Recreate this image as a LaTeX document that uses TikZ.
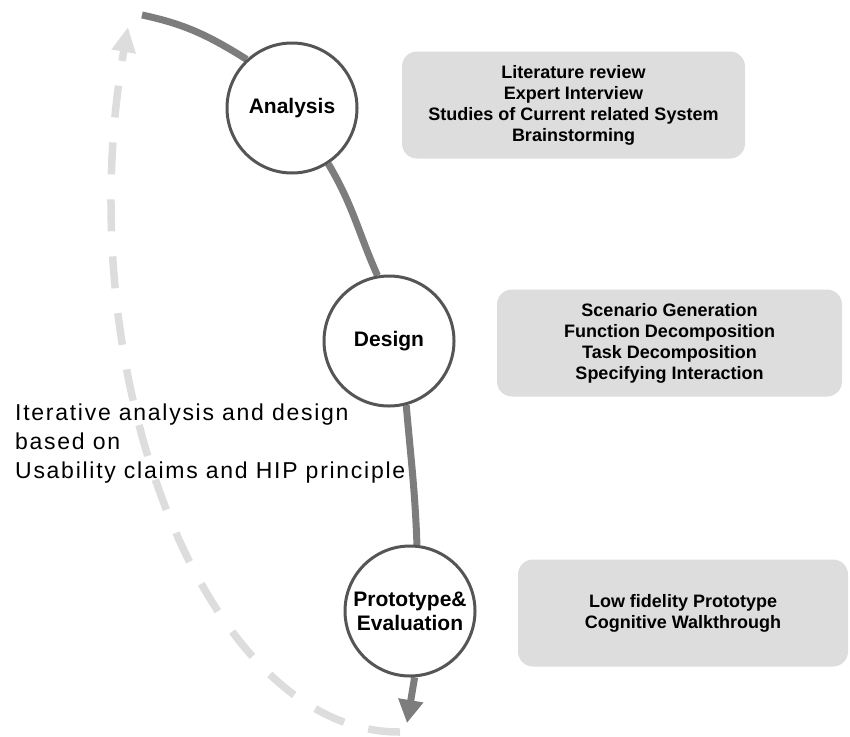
\documentclass[tikz,border=0pt]{standalone}
\usepackage{fontspec}
\setmainfont{Liberation Sans}
\newfontfamily\notefont[LetterSpace=7.5]{Liberation Sans}
\usetikzlibrary{arrows.meta,backgrounds,positioning}
\definecolor{flowgray}{RGB}{125,125,125}
\definecolor{ringgray}{RGB}{85,85,85}
\definecolor{boxgray}{RGB}{221,221,221}
\definecolor{loopgray}{RGB}{221,221,221}

\begin{document}
\begin{tikzpicture}[x=1pt,y=1pt,
  stage/.style={circle, draw=ringgray, line width=3pt, fill=white, minimum size=130pt, inner sep=0pt, align=center, font=\fontsize{21}{24}\selectfont\bfseries},
  task/.style={fill=boxgray, rounded corners=15pt, minimum height=107pt, align=center, font=\fontsize{18}{21}\selectfont\bfseries},
  note/.style={align=left, inner sep=0pt, font=\notefont\fontsize{23}{29}\selectfont},
  flow/.style={draw=flowgray, line width=7pt},
  loopback/.style={draw=loopgray, line width=7.5pt, dash pattern=on 32pt off 25pt}]
\useasboundingbox (0,0) rectangle (850,-736);
% feedback loop
\coordinate (loop_start) at (400,-732);
\coordinate (loop_end) at (128,-27);
\draw[loopback, -{Triangle[width=23pt,length=25pt]}] (loop_start) .. controls (205,-733) and (67,-373) .. (loop_end);
% stages
\node[stage] (stage_analysis) at (292,-108) {Analysis};
\node[stage] (stage_design) at (389,-341) {Design};
\node[stage] (stage_proto) at (410,-611) {Prototype\&\\Evaluation};
% activities of each stage
\node[task, minimum width=343pt] (task_analysis) at (573.5,-105) {Literature review\\Expert Interview\\Studies of Current related System\\Brainstorming};
\node[task, minimum width=345pt] (task_design) at (669.5,-343) {Scenario Generation\\Function Decomposition\\Task Decomposition\\Specifying Interaction};
\node[task, minimum width=330pt] (task_proto) at (683,-613) {Low fidelity Prototype\\Cognitive Walkthrough};
% note on the loop
\node[note, anchor=north west] (note_iter) at (15,-404) {Iterative analysis and design\\based on\\Usability claims and HIP principle};
% main flow
\coordinate (flow_start) at (142,-15);
\coordinate (flow_end) at (407,-723);
\begin{scope}[on background layer]
\draw[flow] (flow_start) to[out=-12,in=148] (stage_analysis.133);
\draw[flow] (stage_analysis.-57) to[out=-59,in=114] (stage_design.100);
\draw[flow] (stage_design.-75) to[out=-85,in=92] (stage_proto.84);
\draw[flow, -{Triangle[width=24pt,length=23pt]}] (stage_proto.-86) -- (flow_end);
\end{scope}
\end{tikzpicture}
\end{document}
